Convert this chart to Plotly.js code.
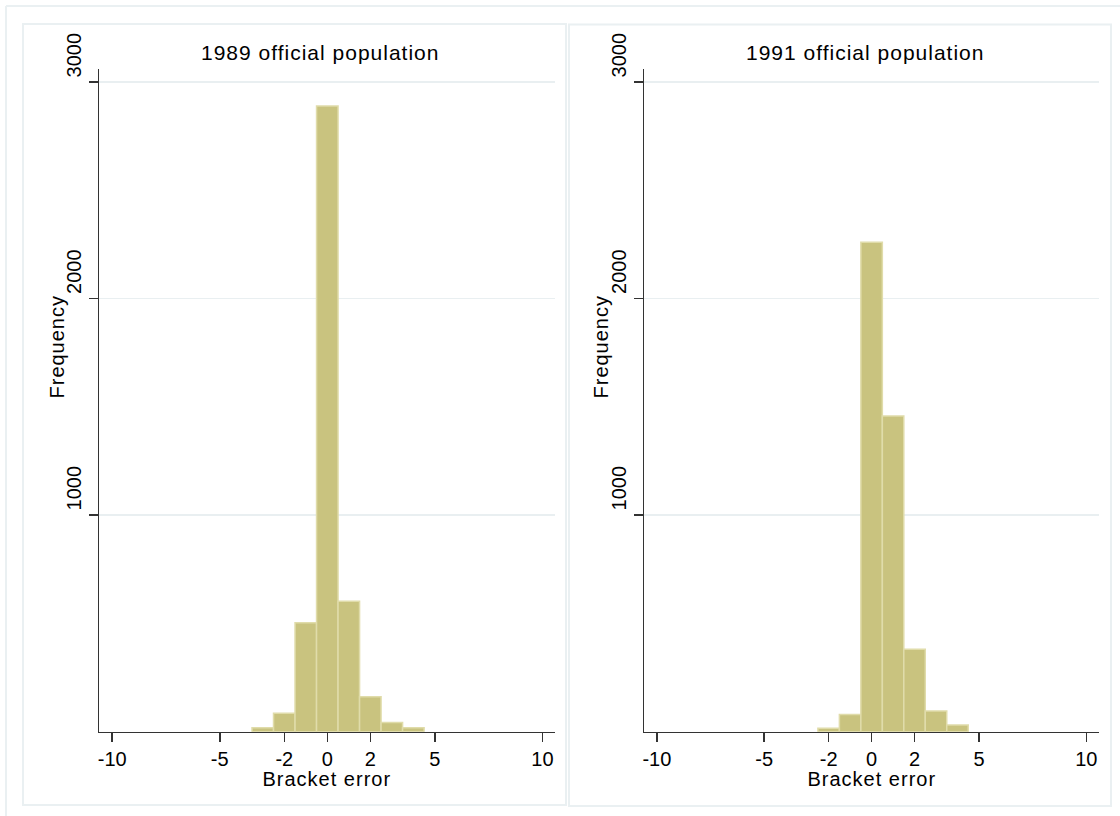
<!DOCTYPE html>
<html>
<head>
<meta charset="utf-8">
<script src="https://cdn.plot.ly/plotly-3.0.1.min.js"></script>
<style>
html,body{margin:0;padding:0;background:#fff;}
#chart{width:1120px;height:816px;}
#chart .annotation-text{letter-spacing:1px;}
</style>
</head>
<body>
<div id="chart"></div>
<script>
// Data (bin centres = bracket error, heights = frequency)
const bins1989 = [-3, -2, -1, 0, 1, 2, 3, 4];
const freq1989 = [18, 85, 503, 2890, 602, 162, 43, 18];
const bins1991 = [-2, -1, 0, 1, 2, 3, 4];
const freq1991 = [16, 80, 2261, 1458, 381, 96, 31];
const panelTitles = ["1989 official population", "1991 official population"];
const xTickVals = [-10, -5, -2, 0, 2, 5, 10];
const xTickText = ["-10", "-5", "-2", "0", "2", "5", "10"];
const yTickVals = [1000, 2000, 3000];
const yTickText = ["1000", "2000", "3000"];
const xTitle = "Bracket error";
const yTitle = "Frequency";

const W = 1120, H = 816;
const px = x => x / W;
const py = y => 1 - y / H;

const FONT = "Liberation Sans, Arial, sans-serif";
const barFill = "#c9c37f";
const barLine = "#e0dcaa";
const gridCol = "#e9eff1";
const frameCol = "#eaf0f2";
const axisCol = "#333333";

const barTrace = (x, y, xa, ya) => ({
  type: "bar", x: x, y: y, width: 1, xaxis: xa, yaxis: ya,
  marker: {color: barFill, line: {color: barLine, width: 1.5}},
  hoverinfo: "x+y", showlegend: false
});

const xAx = dom => ({
  domain: dom, range: [-10.6, 10.6], showgrid: false, zeroline: false,
  showline: true, linecolor: axisCol, linewidth: 1.5,
  ticks: "outside", ticklen: 9, tickwidth: 1.5, tickcolor: axisCol,
  tickmode: "array", tickvals: xTickVals, ticktext: xTickText,
  tickfont: {family: FONT, size: 20, color: "#000"}, fixedrange: true
});
const yAx = (anchor) => ({
  domain: [py(731.7), py(69)], range: [0, 3061], anchor: anchor,
  showgrid: true, gridcolor: gridCol, gridwidth: 1.5, zeroline: false,
  showline: true, linecolor: axisCol, linewidth: 1.5,
  ticks: "outside", ticklen: 9, tickwidth: 1.5, tickcolor: axisCol,
  tickmode: "array", tickvals: yTickVals, ticktext: yTickText,
  tickangle: -90, ticklabelshift: -24,
  tickfont: {family: FONT, size: 20, color: "#000"}, fixedrange: true
});

const frame = {type: "line", xref: "paper", yref: "paper", line: {color: frameCol, width: 2}};
const rect = (x0, y0, x1, y1) => ({type: "rect", xref: "paper", yref: "paper",
  x0: px(x0), x1: px(x1), y0: py(y1), y1: py(y0), line: {color: frameCol, width: 2}, fillcolor: "rgba(0,0,0,0)", layer: "below"});

const ann = (text, x, y, angle, size) => ({
  text: text, xref: "paper", yref: "paper", x: px(x), y: py(y),
  xanchor: "center", yanchor: "middle", showarrow: false, textangle: angle || 0,
  font: {family: FONT, size: size || 20, color: "#000"}
});

const layout = {
  width: W, height: H,
  margin: {l: 0, r: 0, t: 0, b: 0, pad: 0},
  paper_bgcolor: "#fff", plot_bgcolor: "rgba(0,0,0,0)",
  bargap: 0,
  showlegend: false,
  xaxis: xAx([px(99.3), px(555.3)]),
  yaxis: yAx("x"),
  xaxis2: Object.assign(xAx([px(644), px(1099.2)]), {anchor: "y2"}),
  yaxis2: yAx("x2"),
  shapes: [
    Object.assign({}, frame, {x0: px(6), x1: px(1120), y0: py(6), y1: py(6)}),
    Object.assign({}, frame, {x0: px(6), x1: px(6), y0: py(6), y1: py(816)}),
    rect(23, 24, 566, 805),
    rect(569, 24.5, 1111, 806)
  ],
  annotations: [
    ann(panelTitles[0], 320, 52, 0, 21),
    ann(panelTitles[1], 865, 52, 0, 21),
    ann(xTitle, 327, 779),
    ann(xTitle, 871.6, 779),
    ann(yTitle, 57, 347, -90),
    ann(yTitle, 601, 347, -90)
  ]
};

const data = [
  barTrace(bins1989, freq1989, "x", "y"),
  barTrace(bins1991, freq1991, "x2", "y2")
];

Plotly.newPlot("chart", data, layout, {staticPlot: true, displayModeBar: false});
</script>
</body>
</html>
